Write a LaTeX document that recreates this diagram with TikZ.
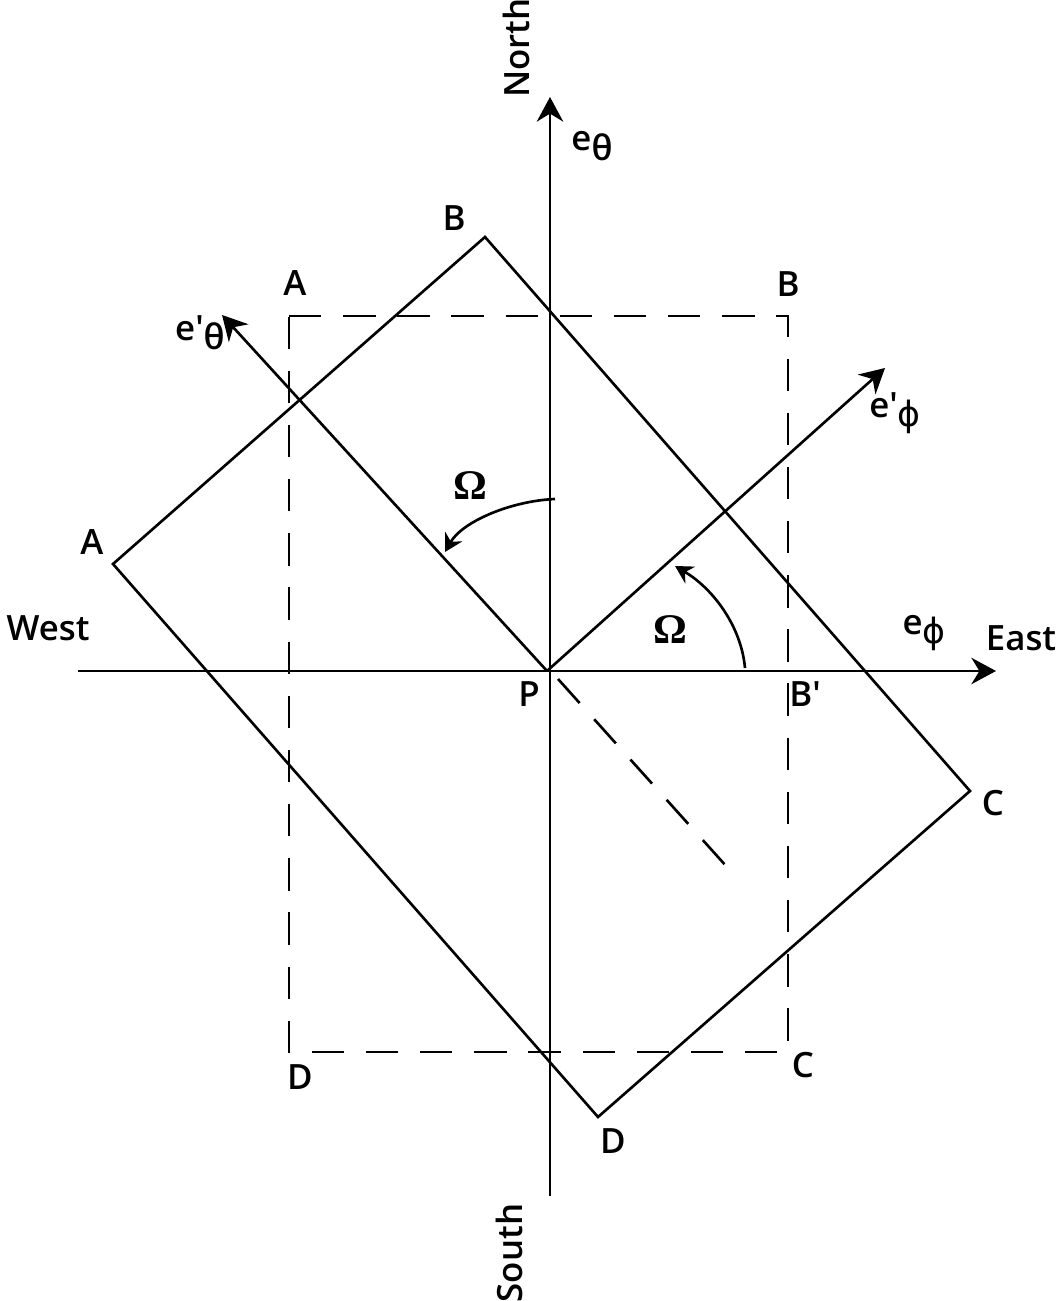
\documentclass[tikz,border=0pt]{standalone}
\usepackage{fontspec}
\setmainfont{Open Sans Semibold}
\newfontfamily\omegafont{Liberation Serif}
\newfontfamily\phifont{DejaVu Sans}
\usetikzlibrary{arrows.meta}
\newcommand{\lowsub}[1]{\raisebox{-0.5ex}{#1}}
\newcommand{\prm}{\textquotesingle}

\begin{document}
\begin{tikzpicture}[x=0.01cm, y=-0.01cm, line width=0.75pt,
    >={Stealth[length=7pt, width=7.5pt]},
    every node/.style={font=\fontsize{9.9}{12}\selectfont, inner sep=0pt},
    dashline/.style={dash pattern=on 9.2pt off 6.2pt},
    arcarrow/.style={-{Stealth[length=5pt, width=5.5pt]}},
    omegalabel/.style={font=\omegafont\bfseries\fontsize{12}{13}\selectfont}]

    \useasboundingbox (0,0) rectangle (1059,1301);

    % Achsen
    \coordinate (P) at (547,671);
    \coordinate (Ntop) at (550,97);
    \coordinate (Sbot) at (550,1196);
    \coordinate (Wend) at (78,671);
    \coordinate (Eend) at (996,671);
    \draw[->] (Sbot) -- (Ntop);
    \draw[->] (Wend) -- (Eend);

    % gestricheltes Rechteck
    \coordinate (dA) at (289,316);
    \coordinate (dB) at (788,316);
    \coordinate (dC) at (788,1052);
    \coordinate (dD) at (289,1052);
    \draw[dashline] (dA) -- (dB) -- (dC) -- (dD) -- cycle;

    % gedrehtes Rechteck
    \coordinate (rA) at (113,564);
    \coordinate (rB) at (485,237);
    \coordinate (rC) at (970,791);
    \coordinate (rD) at (598,1117);
    \draw (rA) -- (rB) -- (rC) -- (rD) -- cycle;

    % gedrehte Basisvektoren
    \coordinate (etp) at (222,315);
    \coordinate (epp) at (885,368);
    \draw[->] (P) -- (etp);
    \draw[->] (P) -- (epp);
    \coordinate (dsS) at (558,679);
    \coordinate (dsE) at (727,867);
    \draw[dashline] (dsS) -- (dsE);

    % Winkel
    \coordinate (o1S) at (555,499);
    \coordinate (o1E) at (445,552);
    \draw[arcarrow] (o1S) .. controls (510,501) and (462,522) .. (o1E);
    \coordinate (o2S) at (745,668);
    \coordinate (o2E) at (675,566);
    \draw[arcarrow] (o2S) .. controls (741,625) and (712,588) .. (o2E);

    % Beschriftungen
    \node[rotate=90] (north) at (516,48) {North};
    \node[rotate=90] (south) at (509,1253) {South};
    \node (west) at (48,628) {West};
    \node (east) at (1021,638) {East};
    \node (etheta) at (592,146) {e\lowsub{θ}};
    \node (ephi) at (924,633) {e\lowsub{\phifont ϕ}};
    \node (ethetap) at (200,333) {e\prm\lowsub{θ}};
    \node (ephip) at (895,413) {e\prm\lowsub{\phifont ϕ}};
    \node[omegalabel] (om1) at (470,486) {Ω};
    \node[omegalabel] (om2) at (670,630) {Ω};
    \node (lP) at (529,694) {P};
    \node (lBp) at (805,694) {B\prm};

    \node (lrA) at (92,542) {A};
    \node (lrB) at (454,218) {B};
    \node (lrC) at (993,803) {C};
    \node (lrD) at (613,1141) {D};
    \node (ldA) at (295,283) {A};
    \node (ldB) at (788,284) {B};
    \node (ldC) at (803,1065) {C};
    \node (ldD) at (300,1077) {D};
\end{tikzpicture}
\end{document}
